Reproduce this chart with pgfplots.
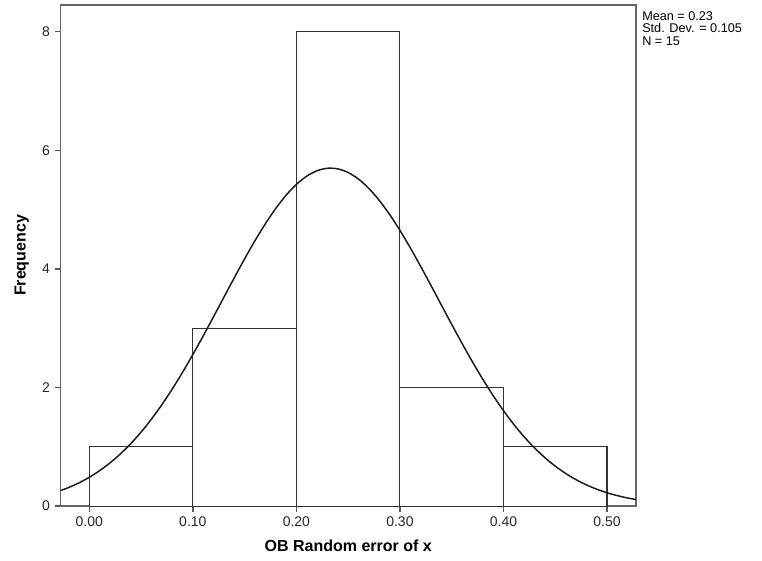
\documentclass[border=0pt]{standalone}
\usepackage{fontspec}
\setmainfont{Liberation Sans}
\usepackage{pgfplots}
\pgfplotsset{compat=1.18}

\begin{document}
\begin{tikzpicture}
\begin{axis}[
    name=ax,
    scale only axis,
    width=431.6pt, height=375.8pt,
    xmin=-0.0278, xmax=0.528,
    ymin=0, ymax=8.45,
    xtick={0,0.1,0.2,0.3,0.4,0.5},
    ytick={0,2,4,6,8},
    xtick pos=lower, ytick pos=left,
    xticklabel style={/pgf/number format/.cd, fixed, fixed zerofill, precision=2},
    /pgf/number format/assume math mode=true,
    tick align=outside,
    major tick length=4.5pt,
    tick style={black!65, line width=1.1pt},
    axis line style={black!60, line width=1.4pt},
    ticklabel style={font=\fontsize{10.5}{12}\selectfont, text=black!85},
    xlabel={\textbf{OB Random error of x}},
    ylabel={\textbf{Frequency}},
    label style={font=\fontsize{12}{14}\selectfont},
    xlabel style={yshift=-3pt},
    ylabel style={yshift=3pt},
    clip=true,
]
\addplot[ybar interval, draw=black!80, line width=0.8pt, fill=white]
  coordinates {(0,1) (0.1,3) (0.2,8) (0.3,2) (0.4,1) (0.5,1)};
% normal curve, mean 0.23, sd 0.105, N = 15
\addplot[black!90, line width=1.1pt, smooth] coordinates {
 (-0.03,0.2475) (-0.02,0.3127) (-0.01,0.3915) (0.00,0.4859) (0.01,0.5975)
 (0.02,0.7282) (0.03,0.8794) (0.04,1.0524) (0.05,1.2479) (0.06,1.4665)
 (0.07,1.7081) (0.08,1.9713) (0.09,2.2544) (0.10,2.5551) (0.11,2.8696)
 (0.12,3.1936) (0.13,3.5224) (0.14,3.8500) (0.15,4.1700) (0.16,4.4754)
 (0.17,4.7602) (0.18,5.0173) (0.19,5.2407) (0.20,5.4244) (0.21,5.5639)
 (0.22,5.6555) (0.23,5.6967) (0.24,5.6863) (0.25,5.6248) (0.26,5.5137)
 (0.27,5.3559) (0.28,5.1557) (0.29,4.9182) (0.30,4.6493) (0.31,4.3554)
 (0.32,4.0432) (0.33,3.7195) (0.34,3.3908) (0.35,3.0633) (0.36,2.7424)
 (0.37,2.4328) (0.38,2.1389) (0.39,1.8634) (0.40,1.6088) (0.41,1.3764)
 (0.42,1.1669) (0.43,0.9804) (0.44,0.8164) (0.45,0.6735) (0.46,0.5506)
 (0.47,0.4461) (0.48,0.3582) (0.49,0.2851) (0.50,0.2248) (0.51,0.1757)
 (0.52,0.1360) (0.53,0.1044)
};
\end{axis}
\node[anchor=north west, align=left, inner sep=0pt,
      font=\fontsize{9.5}{9.6}\selectfont]
  at ([xshift=4.5pt,yshift=-4.5pt]ax.north east)
  {Mean = 0.23\\Std. Dev. = 0.105\\N = 15};
\path (ax.south west) ++(-45.4pt,-40.5pt);
\path (ax.north east) ++(94.5pt,3.75pt);
\end{tikzpicture}
\end{document}
